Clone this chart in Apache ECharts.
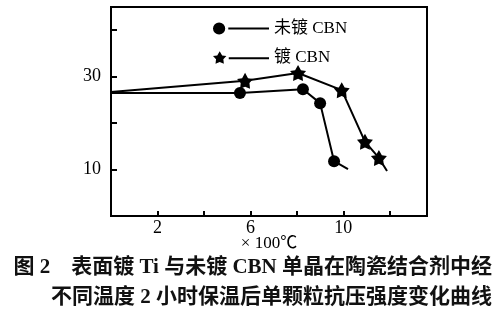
<!DOCTYPE html>
<html>
<head>
<meta charset="utf-8">
<script src="https://cdn.jsdelivr.net/npm/echarts@6/dist/echarts.min.js"></script>
<style>
html,body{margin:0;padding:0;background:#fff;}
#c{width:497px;height:312px;}
</style>
</head>
<body>
<div id="c"></div>
<script>
// Data (x in ×100℃, y strength)
var seriesNames = ['未镀 CBN', '镀 CBN'];
var xUncoated = [0, 5.55, 8.26, 9.0, 9.6, 10.2];
var yUncoated = [26.5, 26.5, 27.3, 24.3, 11.8, 10.1];
var xCoated = [0, 5.77, 8.05, 9.93, 10.93, 11.53, 11.88];
var yCoated = [26.7, 29.1, 30.8, 27.1, 16.0, 12.5, 9.7];
var xTickLabels = [2, 6, 10];
var yTickLabels = [10, 30];
var xAxisName = '× 100℃';
var captionLines = ['图 2　表面镀 Ti 与未镀 CBN 单晶在陶瓷结合剂中经', '不同温度 2 小时保温后单颗粒抗压强度变化曲线'];

function pairs(xs, ys) { return xs.map(function (x, i) { return [x, ys[i]]; }); }

var starPath = 'path://M10 0 L13.5 6.1 L19.5 6.9 L15.2 11.6 L15.9 18.1 L10 15.6 L4.1 18.1 L4.8 11.6 L0.5 6.9 L6.5 6.1 Z';
var legendCircle = 'path://M0 7 A6 6 0 1 0 12 7 A6 6 0 1 0 0 7 Z M15 6 L55 6 L55 8 L15 8 Z';
var legendStar = 'path://M7 0 L9.45 4.27 L13.65 4.83 L10.64 8.12 L11.13 12.67 L7 10.92 L2.87 12.67 L3.36 8.12 L0.35 4.83 L4.55 4.27 Z M16 6 L56 6 L56 8 L16 8 Z';

var serifFont = '"Liberation Serif", "Noto Sans CJK SC", serif';
var chart = echarts.init(document.getElementById('c'), null, {renderer: 'canvas'});
chart.setOption({
  backgroundColor: '#fff',
  animation: false,
  grid: {left: 111, top: 7, right: 70, bottom: 96, show: true, borderColor: '#000', borderWidth: 2, backgroundColor: 'transparent'},
  legend: {
    orient: 'vertical', left: 208, top: 15, itemWidth: 56, itemHeight: 13, itemGap: 12,
    symbolKeepAspect: true,
    textStyle: {color: '#000', fontSize: 17, fontFamily: serifFont},
    data: [{name: seriesNames[0], icon: legendCircle}, {name: seriesNames[1], icon: legendStar}]
  },
  xAxis: {
    type: 'value', min: 0, max: 13.6, interval: 2,
    name: xAxisName, nameLocation: 'middle', nameGap: 19, nameMoveOverlap: false,
    nameTextStyle: {color: '#000', fontSize: 17, fontFamily: serifFont},
    axisLine: {lineStyle: {color: '#000', width: 2}},
    axisTick: {inside: true, length: 5, lineStyle: {color: '#000', width: 2}},
    splitLine: {show: false},
    axisLabel: {color: '#000', fontSize: 18, fontFamily: serifFont, margin: 3,
      formatter: function (v) { return xTickLabels.indexOf(v) >= 0 ? String(v) : ''; }}
  },
  yAxis: {
    type: 'value', min: 0, max: 45, interval: 10,
    axisLine: {lineStyle: {color: '#000', width: 2}},
    axisTick: {inside: true, length: 6, lineStyle: {color: '#000', width: 2}},
    splitLine: {show: false},
    axisLabel: {color: '#000', fontSize: 18, fontFamily: serifFont, margin: 10,
      formatter: function (v) { return yTickLabels.indexOf(v) >= 0 ? String(v) : ''; }}
  },
  series: [
    {
      name: seriesNames[0], type: 'line', data: pairs(xUncoated, yUncoated),
      symbol: 'circle',
      symbolSize: function (v, p) { return (p.dataIndex === 0 || p.dataIndex === xUncoated.length - 1) ? 0 : 12; },
      showAllSymbol: true,
      lineStyle: {color: '#000', width: 2}, itemStyle: {color: '#000'}, z: 3
    },
    {
      name: seriesNames[1], type: 'line', data: pairs(xCoated, yCoated),
      symbol: starPath,
      symbolSize: function (v, p) { return (p.dataIndex === 0 || p.dataIndex === xCoated.length - 1) ? 0 : 16; },
      showAllSymbol: true,
      lineStyle: {color: '#000', width: 2}, itemStyle: {color: '#000'}, z: 3
    }
  ],
  graphic: [
    {type: 'text', right: 5, top: 257, style: {text: captionLines[0], font: 'bold 21px "Liberation Serif", "Noto Sans CJK SC", serif', fill: '#111'}},
    {type: 'text', right: 5, top: 287, style: {text: captionLines[1], font: 'bold 21px "Liberation Serif", "Noto Sans CJK SC", serif', fill: '#111'}}
  ]
});
</script>
</body>
</html>
